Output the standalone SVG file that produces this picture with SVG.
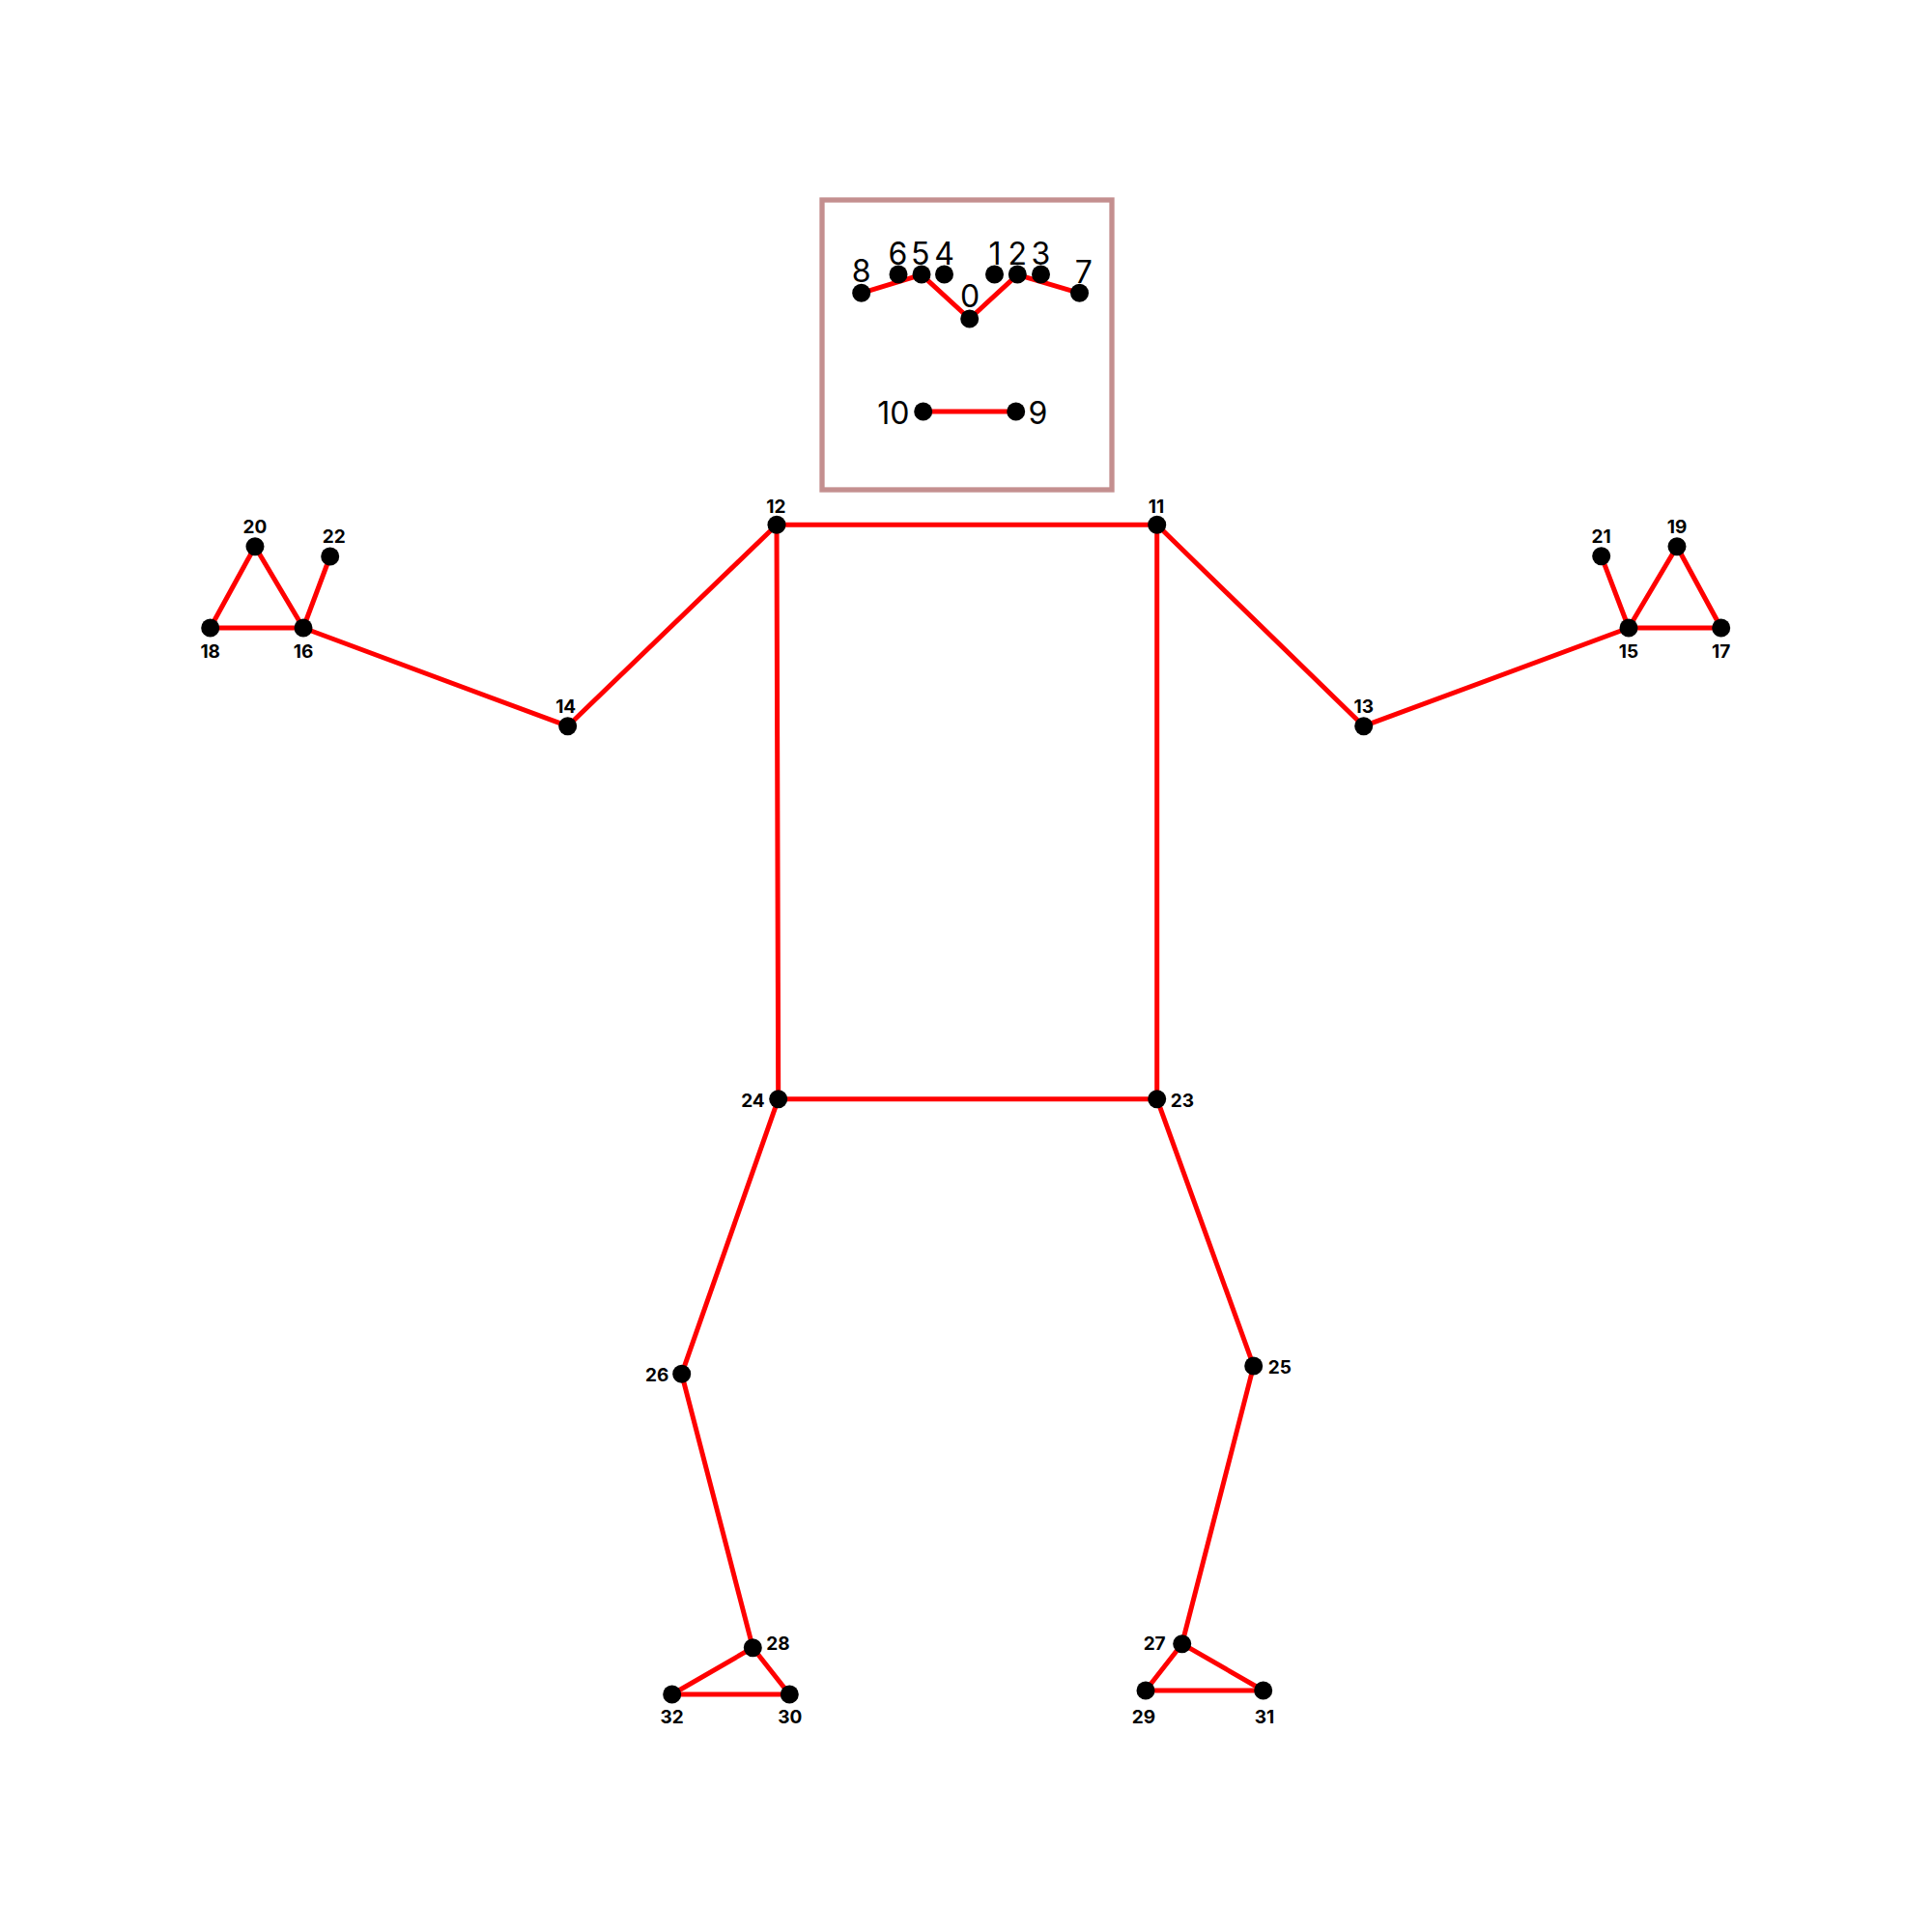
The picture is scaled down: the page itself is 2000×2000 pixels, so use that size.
<svg xmlns="http://www.w3.org/2000/svg" width="2000" height="2000" viewBox="0 0 2000 2000">
<style>
.e{stroke:#ff0000;stroke-width:5;fill:none;stroke-linecap:round}
.d{fill:#000}
.f{font-family:Inter,"Noto Sans","DejaVu Sans",sans-serif;font-size:32px;fill:#000}
.b{font-family:Inter,"Noto Sans","DejaVu Sans",sans-serif;font-size:19px;font-weight:bold;fill:#000}
.m{text-anchor:middle}
.n{text-anchor:end}
</style>
<rect x="851" y="207" width="300" height="300" fill="none" stroke="#c48f8f" stroke-width="5.3"/>
<g id="connectors">
<line class="e" x1="891.7" y1="303.3" x2="954" y2="284.3"/>
<line class="e" x1="954" y1="284.3" x2="1003.7" y2="330"/>
<line class="e" x1="1003.7" y1="330" x2="1053.3" y2="284.3"/>
<line class="e" x1="1053.3" y1="284.3" x2="1117.3" y2="303.3"/>
<line class="e" x1="955.7" y1="426" x2="1051.7" y2="426"/>
<line class="e" x1="804" y1="543.3" x2="1197.7" y2="543.3"/>
<line class="e" x1="1197.7" y1="543.3" x2="1411.7" y2="751.7"/>
<line class="e" x1="1411.7" y1="751.7" x2="1686" y2="650"/>
<line class="e" x1="1686" y1="650" x2="1781.7" y2="650"/>
<line class="e" x1="1686" y1="650" x2="1736" y2="565.7"/>
<line class="e" x1="1736" y1="565.7" x2="1781.7" y2="650"/>
<line class="e" x1="1686" y1="650" x2="1657.7" y2="575.7"/>
<line class="e" x1="804" y1="543.3" x2="587.7" y2="751.7"/>
<line class="e" x1="587.7" y1="751.7" x2="314" y2="650"/>
<line class="e" x1="314" y1="650" x2="217.7" y2="650"/>
<line class="e" x1="314" y1="650" x2="264" y2="565.7"/>
<line class="e" x1="264" y1="565.7" x2="217.7" y2="650"/>
<line class="e" x1="314" y1="650" x2="341.7" y2="576"/>
<line class="e" x1="1197.7" y1="543.3" x2="1197.7" y2="1137.7"/>
<line class="e" x1="804" y1="543.3" x2="805.7" y2="1137.7"/>
<line class="e" x1="805.7" y1="1137.7" x2="1197.7" y2="1137.7"/>
<line class="e" x1="1197.7" y1="1137.7" x2="1297.7" y2="1414"/>
<line class="e" x1="1297.7" y1="1414" x2="1223.7" y2="1701.7"/>
<line class="e" x1="1223.7" y1="1701.7" x2="1186" y2="1750"/>
<line class="e" x1="1223.7" y1="1701.7" x2="1307.7" y2="1750"/>
<line class="e" x1="1186" y1="1750" x2="1307.7" y2="1750"/>
<line class="e" x1="805.7" y1="1137.7" x2="705.7" y2="1422.3"/>
<line class="e" x1="705.7" y1="1422.3" x2="779.3" y2="1705.7"/>
<line class="e" x1="779.3" y1="1705.7" x2="817.3" y2="1754"/>
<line class="e" x1="779.3" y1="1705.7" x2="695.7" y2="1754"/>
<line class="e" x1="817.3" y1="1754" x2="695.7" y2="1754"/>
</g>
<g id="p0"><circle class="d" cx="1003.7" cy="330" r="9.5"/><text class="f m" x="1004" y="318">0</text></g>
<g id="p1"><circle class="d" cx="1029.5" cy="284" r="9.5"/><text class="f m" x="1030" y="274">1</text></g>
<g id="p2"><circle class="d" cx="1053.3" cy="284" r="9.5"/><text class="f m" x="1053.3" y="274">2</text></g>
<g id="p3"><circle class="d" cx="1077.5" cy="284" r="9.5"/><text class="f m" x="1077.3" y="274">3</text></g>
<g id="p4"><circle class="d" cx="977.5" cy="284" r="9.5"/><text class="f m" x="977.7" y="274">4</text></g>
<g id="p5"><circle class="d" cx="954" cy="284" r="9.5"/><text class="f m" x="952.7" y="274">5</text></g>
<g id="p6"><circle class="d" cx="930" cy="284" r="9.5"/><text class="f m" x="929.3" y="274">6</text></g>
<g id="p7"><circle class="d" cx="1117.5" cy="303.3" r="9.5"/><text class="f m" x="1121.7" y="293">7</text></g>
<g id="p8"><circle class="d" cx="891.7" cy="303.3" r="9.5"/><text class="f m" x="891.7" y="292">8</text></g>
<g id="p9"><circle class="d" cx="1051.7" cy="426" r="9.5"/><text class="f" x="1064.5" y="438.5">9</text></g>
<g id="p10"><circle class="d" cx="955.7" cy="426" r="9.5"/><text class="f n" x="941.5" y="438.5">10</text></g>
<g id="p11"><circle class="d" cx="1197.7" cy="543.3" r="9.5"/><text class="b m" x="1197" y="530.5">11</text></g>
<g id="p12"><circle class="d" cx="804" cy="543.3" r="9.5"/><text class="b m" x="803.3" y="530.5">12</text></g>
<g id="p13"><circle class="d" cx="1411.7" cy="751.7" r="9.5"/><text class="b m" x="1411.7" y="738.3">13</text></g>
<g id="p14"><circle class="d" cx="587.7" cy="751.7" r="9.5"/><text class="b m" x="585.7" y="738.3">14</text></g>
<g id="p15"><circle class="d" cx="1686" cy="650" r="9.5"/><text class="b m" x="1686" y="680.5">15</text></g>
<g id="p16"><circle class="d" cx="314" cy="650" r="9.5"/><text class="b m" x="314" y="680.5">16</text></g>
<g id="p17"><circle class="d" cx="1781.7" cy="650" r="9.5"/><text class="b m" x="1781.7" y="680.5">17</text></g>
<g id="p18"><circle class="d" cx="217.7" cy="650" r="9.5"/><text class="b m" x="217.7" y="680.5">18</text></g>
<g id="p19"><circle class="d" cx="1736" cy="565.7" r="9.5"/><text class="b m" x="1736" y="552.3">19</text></g>
<g id="p20"><circle class="d" cx="264" cy="565.7" r="9.5"/><text class="b m" x="264" y="552.3">20</text></g>
<g id="p21"><circle class="d" cx="1657.7" cy="575.7" r="9.5"/><text class="b m" x="1657.7" y="562.3">21</text></g>
<g id="p22"><circle class="d" cx="341.7" cy="576" r="9.5"/><text class="b m" x="345.7" y="562.3">22</text></g>
<g id="p23"><circle class="d" cx="1197.7" cy="1137.7" r="9.5"/><text class="b" x="1211.7" y="1146">23</text></g>
<g id="p24"><circle class="d" cx="805.7" cy="1137.7" r="9.5"/><text class="b n" x="791.7" y="1146">24</text></g>
<g id="p25"><circle class="d" cx="1297.7" cy="1414" r="9.5"/><text class="b" x="1312.7" y="1422">25</text></g>
<g id="p26"><circle class="d" cx="705.7" cy="1422.3" r="9.5"/><text class="b n" x="692.3" y="1430.3">26</text></g>
<g id="p27"><circle class="d" cx="1223.7" cy="1701.7" r="9.5"/><text class="b n" x="1206.7" y="1708">27</text></g>
<g id="p28"><circle class="d" cx="779.3" cy="1705.7" r="9.5"/><text class="b" x="793.3" y="1708">28</text></g>
<g id="p29"><circle class="d" cx="1186" cy="1750" r="9.5"/><text class="b m" x="1184" y="1783.5">29</text></g>
<g id="p30"><circle class="d" cx="817.3" cy="1754" r="9.5"/><text class="b m" x="817.7" y="1783.5">30</text></g>
<g id="p31"><circle class="d" cx="1307.7" cy="1750" r="9.5"/><text class="b m" x="1309" y="1783.5">31</text></g>
<g id="p32"><circle class="d" cx="695.7" cy="1754" r="9.5"/><text class="b m" x="695.7" y="1783.5">32</text></g>
</svg>
